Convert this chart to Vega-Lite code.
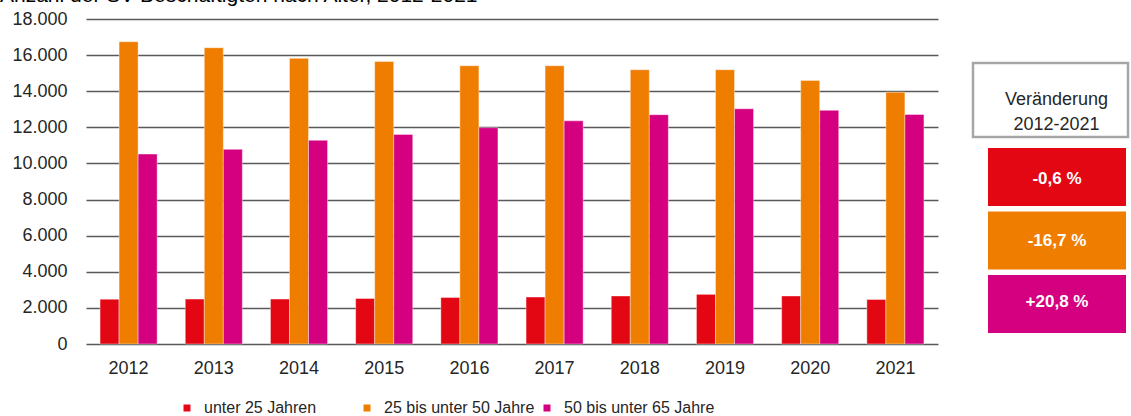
{
  "$schema": "https://vega.github.io/schema/vega-lite/v6.json",
  "width": 852,
  "height": 325,
  "autosize": {"type": "none"},
  "padding": {"left": 86, "top": 19, "right": 193, "bottom": 72},
  "title": {
    "text": "Anzahl der SV-Beschäftigten nach Alter, 2012-2021",
    "anchor": "start",
    "frame": "group",
    "font": "Liberation Sans",
    "fontSize": 21,
    "fontWeight": "normal",
    "color": "#000000",
    "dx": -86,
    "dy": -2,
    "offset": 2
  },
  "config": {
    "view": {"stroke": null},
    "font": "Liberation Sans",
    "locale": {
      "number": {"decimal": ",", "thousands": ".", "grouping": [3], "currency": ["", " €"]}
    }
  },
  "datasets": {
    "beschaeftigte": [
      {"jahr": "2012", "gruppe": "unter 25 Jahren", "anzahl": 2480},
      {"jahr": "2012", "gruppe": "25 bis unter 50 Jahre", "anzahl": 16740},
      {"jahr": "2012", "gruppe": "50 bis unter 65 Jahre", "anzahl": 10520},
      {"jahr": "2013", "gruppe": "unter 25 Jahren", "anzahl": 2490},
      {"jahr": "2013", "gruppe": "25 bis unter 50 Jahre", "anzahl": 16410},
      {"jahr": "2013", "gruppe": "50 bis unter 65 Jahre", "anzahl": 10780},
      {"jahr": "2014", "gruppe": "unter 25 Jahren", "anzahl": 2490},
      {"jahr": "2014", "gruppe": "25 bis unter 50 Jahre", "anzahl": 15820},
      {"jahr": "2014", "gruppe": "50 bis unter 65 Jahre", "anzahl": 11280},
      {"jahr": "2015", "gruppe": "unter 25 Jahren", "anzahl": 2520},
      {"jahr": "2015", "gruppe": "25 bis unter 50 Jahre", "anzahl": 15650},
      {"jahr": "2015", "gruppe": "50 bis unter 65 Jahre", "anzahl": 11610},
      {"jahr": "2016", "gruppe": "unter 25 Jahren", "anzahl": 2580},
      {"jahr": "2016", "gruppe": "25 bis unter 50 Jahre", "anzahl": 15410},
      {"jahr": "2016", "gruppe": "50 bis unter 65 Jahre", "anzahl": 11980},
      {"jahr": "2017", "gruppe": "unter 25 Jahren", "anzahl": 2600},
      {"jahr": "2017", "gruppe": "25 bis unter 50 Jahre", "anzahl": 15410},
      {"jahr": "2017", "gruppe": "50 bis unter 65 Jahre", "anzahl": 12360},
      {"jahr": "2018", "gruppe": "unter 25 Jahren", "anzahl": 2660},
      {"jahr": "2018", "gruppe": "25 bis unter 50 Jahre", "anzahl": 15190},
      {"jahr": "2018", "gruppe": "50 bis unter 65 Jahre", "anzahl": 12700},
      {"jahr": "2019", "gruppe": "unter 25 Jahren", "anzahl": 2750},
      {"jahr": "2019", "gruppe": "25 bis unter 50 Jahre", "anzahl": 15190},
      {"jahr": "2019", "gruppe": "50 bis unter 65 Jahre", "anzahl": 13030},
      {"jahr": "2020", "gruppe": "unter 25 Jahren", "anzahl": 2660},
      {"jahr": "2020", "gruppe": "25 bis unter 50 Jahre", "anzahl": 14600},
      {"jahr": "2020", "gruppe": "50 bis unter 65 Jahre", "anzahl": 12940},
      {"jahr": "2021", "gruppe": "unter 25 Jahren", "anzahl": 2465},
      {"jahr": "2021", "gruppe": "25 bis unter 50 Jahre", "anzahl": 13950},
      {"jahr": "2021", "gruppe": "50 bis unter 65 Jahre", "anzahl": 12710}
    ],
    "veraenderung": [
      {"gruppe": "unter 25 Jahren", "text": "-0,6 %"},
      {"gruppe": "25 bis unter 50 Jahre", "text": "-16,7 %"},
      {"gruppe": "50 bis unter 65 Jahre", "text": "+20,8 %"}
    ],
    "kopf": [
      {"titel": "Veränderung\n2012-2021"}
    ]
  },
  "layer": [
    {
      "data": {"name": "beschaeftigte"},
      "mark": {"type": "bar", "stroke": "#ffffff", "strokeWidth": 0.8, "strokeOpacity": 0.5},
      "encoding": {
        "x": {
          "field": "jahr",
          "type": "nominal",
          "scale": {"paddingInner": 0.33, "paddingOuter": 0.165},
          "axis": {
            "title": null,
            "labelAngle": 0,
            "labelFontSize": 18,
            "labelColor": "#262626",
            "labelPadding": 15,
            "ticks": false,
            "domain": false
          }
        },
        "xOffset": {
          "field": "gruppe",
          "type": "nominal",
          "sort": ["unter 25 Jahren", "25 bis unter 50 Jahre", "50 bis unter 65 Jahre"]
        },
        "y": {
          "field": "anzahl",
          "type": "quantitative",
          "scale": {"domain": [0, 18000], "nice": false},
          "axis": {
            "title": null,
            "values": [0, 2000, 4000, 6000, 8000, 10000, 12000, 14000, 16000, 18000],
            "format": ",d",
            "labelFontSize": 18,
            "labelColor": "#262626",
            "labelPadding": 19,
            "ticks": false,
            "domain": false,
            "grid": true,
            "gridColor": "#595959",
            "gridWidth": 1.6
          }
        },
        "color": {
          "field": "gruppe",
          "type": "nominal",
          "scale": {
            "domain": ["unter 25 Jahren", "25 bis unter 50 Jahre", "50 bis unter 65 Jahre"],
            "range": ["#E30613", "#EF7D00", "#D5007F"]
          },
          "legend": {
            "title": null,
            "orient": "none",
            "direction": "horizontal",
            "columns": 3,
            "gridAlign": "all",
            "columnPadding": 4,
            "legendX": 93,
            "legendY": 381,
            "symbolType": "square",
            "symbolSize": 49,
            "symbolStrokeWidth": 0,
            "labelFontSize": 16,
            "labelColor": "#262626",
            "labelOffset": 9
          }
        }
      }
    },
    {
      "data": {"name": "kopf"},
      "mark": {"type": "rect", "fill": "#ffffff", "stroke": "#A6A6A6", "strokeWidth": 2.5},
      "encoding": {
        "x": {"datum": "kopf", "type": "nominal", "scale": {"range": [887, 1042], "paddingInner": 0, "paddingOuter": 0}, "axis": null},
        "y": {"datum": "kopf", "type": "nominal", "scale": {"range": [44, 118], "paddingInner": 0, "paddingOuter": 0}, "axis": null}
      }
    },
    {
      "data": {"name": "kopf"},
      "mark": {"type": "text", "lineBreak": "\n", "fontSize": 18, "lineHeight": 25, "color": "#262626", "align": "center", "baseline": "middle", "dx": 6},
      "encoding": {
        "x": {"datum": "kopf", "type": "nominal", "scale": {"range": [887, 1042], "paddingInner": 0, "paddingOuter": 0}, "axis": null},
        "y": {"datum": "kopf", "type": "nominal", "scale": {"range": [44, 118], "paddingInner": 0, "paddingOuter": 0}, "axis": null},
        "text": {"field": "titel"}
      }
    },
    {
      "data": {"name": "veraenderung"},
      "mark": {"type": "rect"},
      "encoding": {
        "x": {"datum": "box", "type": "nominal", "scale": {"range": [902, 1040], "paddingInner": 0, "paddingOuter": 0}, "axis": null},
        "y": {
          "field": "gruppe",
          "type": "nominal",
          "scale": {
            "domain": ["unter 25 Jahren", "25 bis unter 50 Jahre", "50 bis unter 65 Jahre"],
            "range": [129, 314],
            "paddingInner": 0.087,
            "paddingOuter": 0
          },
          "axis": null
        },
        "color": {"field": "gruppe", "type": "nominal"}
      }
    },
    {
      "data": {"name": "veraenderung"},
      "mark": {"type": "text", "fontSize": 17, "fontWeight": "bold", "color": "#ffffff", "align": "center", "baseline": "middle"},
      "encoding": {
        "x": {"datum": "box", "type": "nominal", "scale": {"range": [902, 1040], "paddingInner": 0, "paddingOuter": 0}, "axis": null},
        "y": {
          "field": "gruppe",
          "type": "nominal",
          "scale": {
            "domain": ["unter 25 Jahren", "25 bis unter 50 Jahre", "50 bis unter 65 Jahre"],
            "range": [129, 314],
            "paddingInner": 0.087,
            "paddingOuter": 0
          },
          "axis": null
        },
        "text": {"field": "text"}
      }
    }
  ],
  "resolve": {"scale": {"x": "independent", "y": "independent"}}
}
